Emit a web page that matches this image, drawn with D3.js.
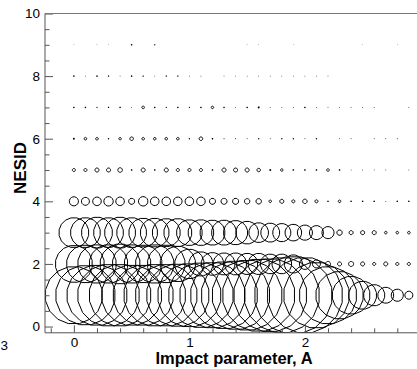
<!DOCTYPE html>
<html>
<head>
<meta charset="utf-8">
<script src="https://cdn.jsdelivr.net/npm/d3@7"></script>
<style>
  html, body { margin: 0; padding: 0; background: #fff; }
  svg { display: block; }
  text { font-family: "Liberation Sans", Arial, sans-serif; fill: #000; }
</style>
</head>
<body>
<svg id="chart" width="417" height="369"></svg>
<script>
// Impact parameter grid (A) shared by every NESID row
const impact = [0, 0.1, 0.2, 0.3, 0.4, 0.5, 0.6, 0.7, 0.8, 0.9,
                1.0, 1.1, 1.2, 1.3, 1.4, 1.5, 1.6, 1.7, 1.8, 1.9,
                2.0, 2.1, 2.2, 2.3, 2.4, 2.5, 2.6, 2.7, 2.8, 2.9];

// Relative weight of each (impact, NESID) cell, 0..100
const nesid1 = [76, 79, 80, 82, 82, 80, 80, 82, 82, 83,
                84, 86, 87, 89, 91, 93, 96, 97, 100, 103,
                100, 87, 76, 63, 50, 37, 28, 21, 16, 10.5];
const nesid2 = [49, 50, 51, 51, 53, 51, 50, 51, 50, 47,
                39, 32, 30, 29, 29, 28, 28, 26, 26, 24,
                14.5, 10.5, 6.6, 5.3, 6.6, 5.3, 4, 5.3, 4, 4];
const nesid3 = [39.5, 39.5, 41, 39.5, 41, 39.5, 38, 38, 37, 37,
                34, 34, 33, 33, 32, 30, 26, 25, 24, 22,
                20, 18.5, 16, 7, 5.3, 5.3, 5.3, 3.4, 3.4, 3.4];
const nesid4 = [12, 10.5, 11.3, 12.4, 11.3, 7.9, 12.4, 11.3, 11.3, 11.3,
                11.3, 11.3, 7.9, 7.9, 7.9, 7.1, 7.1, 3.4, 5.3, 4,
                5.8, 4, 2.1, 3.4, 2.1, 2.1, 2.1, 1.1, 2.1, 2.1];
const nesid5 = [4, 4, 5.3, 5.3, 6, 2.1, 5.3, 2.1, 5.3, 4,
                4, 4, 2.1, 5.3, 5.3, 5.3, 4.5, 2.6, 3.2, 2.1,
                2.1, 2.1, 3.4, 2.1, 1.1, 1.1, 1.1, 1.1, 0, 1.1];
const nesid6 = [2.6, 3.4, 3.4, 1.8, 3.2, 4.7, 3.4, 3.4, 3.4, 3.4,
                1.8, 4.7, 2.1, 1.3, 1.3, 1.1, 1.8, 1.1, 1.8, 1.8,
                1.1, 1.8, 0, 1.1, 1.1, 0, 1.1, 1.1, 1.1, 0];
const nesid7 = [2.1, 2.1, 1.6, 1.8, 2.1, 1.1, 3.4, 2.1, 1.6, 2.1,
                1.6, 2.1, 3.2, 2.1, 1.1, 2.1, 2.6, 1.1, 1.1, 1.1,
                2.1, 1.1, 1.1, 1.1, 1.1, 1.1, 1.1, 0, 0, 1.1];
const nesid8 = [2.1, 1.1, 2.1, 1.8, 1.1, 2.1, 1.8, 1.1, 1.8, 1.8,
                1.1, 1.1, 0, 1.1, 1.1, 1.1, 1.1, 1.1, 1.1, 1.1,
                1.1, 1.1, 1.1, 0, 0, 0, 0, 0, 0, 0];
const nesid9 = [0.8, 0, 0.8, 0.8, 0, 2.1, 0, 1.8, 0, 0,
                0, 0, 0, 0, 0, 0.8, 0.8, 0, 0, 0.8,
                0, 0, 0, 0, 0, 0.8, 0, 0, 0.8, 0];

const rows = [
  { level: 1, values: nesid1 },
  { level: 2, values: nesid2 },
  { level: 3, values: nesid3 },
  { level: 4, values: nesid4 },
  { level: 5, values: nesid5 },
  { level: 6, values: nesid6 },
  { level: 7, values: nesid7 },
  { level: 8, values: nesid8 },
  { level: 9, values: nesid9 }
];

// Axis ticks
const xMajor = [0, 1, 2];
const xMinor = [-0.2, 0.2, 0.4, 0.6, 0.8, 1.2, 1.4, 1.6, 1.8, 2.2, 2.4, 2.6, 2.8];
const yMajor = [0, 2, 4, 6, 8, 10];
const yMinor = [0.5, 1, 1.5, 2.5, 3, 3.5, 4.5, 5, 5.5, 6.5, 7, 7.5, 8.5, 9, 9.5];

const xTitle = "Impact parameter, A";
const yTitle = "NESID";

const svg = d3.select("#chart");

const x = d3.scaleLinear().domain([-0.25, 3.0]).range([45, 420.4]);
const y = d3.scaleLinear().domain([-0.2, 10]).range([332.8, 13.5]);
const size = d3.scaleLinear().domain([0, 100]).range([0, 38]);

const axisColor = "#555";

// Plot clip
svg.append("defs").append("clipPath").attr("id", "plot")
  .append("rect")
  .attr("x", x(-0.25)).attr("y", y(10))
  .attr("width", x(3.0) - x(-0.25)).attr("height", y(-0.2) - y(10));

// Circles are drawn as 16-sided polygons
const sides = 16;
const ring = d3.range(sides).map(i => (i + 0.5) * 2 * Math.PI / sides);
function polygon(r) {
  return d3.lineRadial()
    .angle(a => a)
    .radius(r)
    .curve(d3.curveLinearClosed)(ring);
}

const cells = [];
rows.forEach(row => {
  row.values.forEach((v, i) => {
    if (v > 0) cells.push({ a: impact[i], n: row.level, v });
  });
});

// Very small symbols collapse to solid specks
const isDot = d => size(d.v) < 1;

svg.append("g")
  .attr("clip-path", "url(#plot)")
  .selectAll("path")
  .data(cells)
  .join("path")
  .attr("transform", d => `translate(${x(d.a)},${y(d.n)})`)
  .attr("d", d => polygon(size(d.v)))
  .attr("fill", d => isDot(d) ? "#000" : "none")
  .attr("stroke", d => isDot(d) ? "none" : "#000")
  .attr("stroke-width", 1);

// Bottom axis
const gx = svg.append("g").attr("transform", `translate(0,${y(-0.2)})`);
gx.call(d3.axisBottom(x).tickValues(xMinor).tickSize(-4.5).tickSizeOuter(0).tickFormat(""));
gx.call(g => g.select(".domain").remove());
const gx2 = svg.append("g").attr("transform", `translate(0,${y(-0.2)})`);
gx2.call(d3.axisBottom(x).tickValues(xMajor).tickSize(-7.5).tickSizeOuter(0)
  .tickPadding(4.5).tickFormat(d3.format("d")));
gx2.select(".domain").attr("d", `M${x(-0.25)},0H417`);
gx2.selectAll("text").attr("font-size", 13.5).attr("font-family", null);

// Left axis
const gy = svg.append("g").attr("transform", `translate(${x(-0.25)},0)`);
gy.call(d3.axisLeft(y).tickValues(yMinor).tickSize(-4.5).tickSizeOuter(0).tickFormat(""));
gy.call(g => g.select(".domain").remove());
const gy2 = svg.append("g").attr("transform", `translate(${x(-0.25)},0)`);
gy2.call(d3.axisLeft(y).tickValues(yMajor).tickSize(-8).tickSizeOuter(0)
  .tickPadding(5).tickFormat(d3.format("d")));
gy2.select(".domain").attr("d", `M0,${y(-0.2)}V${y(10)}`);
gy2.selectAll("text").attr("font-size", 13.5).attr("font-family", null);
svg.selectAll(".tick line, .domain").attr("stroke", axisColor);

// Top frame line
svg.append("line")
  .attr("x1", x(-0.25)).attr("x2", 417)
  .attr("y1", y(10)).attr("y2", y(10))
  .attr("stroke", "#777");

// Axis titles
svg.append("text")
  .attr("x", (x(-0.25) + 417) / 2 + 3)
  .attr("y", 364)
  .attr("text-anchor", "middle")
  .attr("font-size", 16.5)
  .attr("font-weight", "bold")
  .text(xTitle);

svg.append("text")
  .attr("transform", `translate(26,${168}) rotate(-90)`)
  .attr("text-anchor", "middle")
  .attr("font-size", 17)
  .attr("font-weight", "bold")
  .text(yTitle);

// Edge of a neighbouring tick label
svg.append("text")
  .attr("x", 0.5).attr("y", 350)
  .attr("text-anchor", "start")
  .attr("font-size", 13.5)
  .text("3");
</script>
</body>
</html>
